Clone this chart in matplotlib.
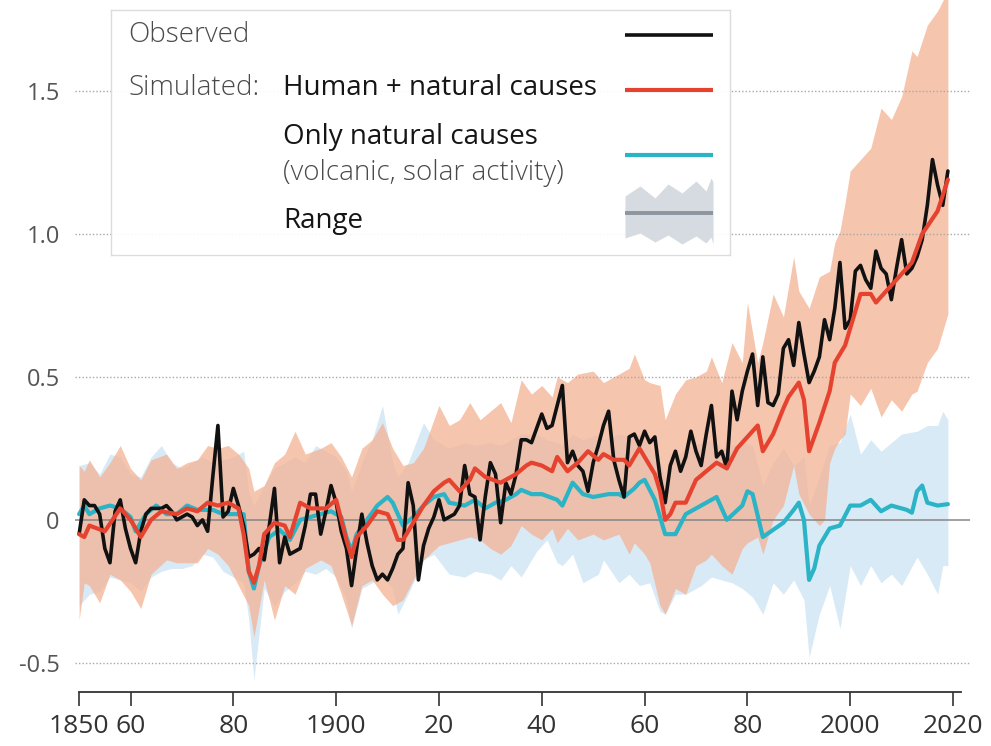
import matplotlib
matplotlib.use('Agg')
import matplotlib.pyplot as plt

plt.rcParams['font.family'] = ['Open Sans', 'DejaVu Sans']

# Observed annual anomaly, 1850-2019
years = list(range(1850, 2020))
observed = [
    -0.05, 0.07, 0.05, 0.05, 0.02, -0.10, -0.15, 0.03, 0.07, -0.03,
    -0.10, -0.15, -0.04, 0.02, 0.04, 0.04, 0.04, 0.05, 0.03, 0.00,
    0.01, 0.02, 0.01, -0.02, 0.00, -0.04, 0.15, 0.33, 0.01, 0.03,
    0.11, 0.05, -0.02, -0.13, -0.12, -0.10, -0.14, -0.02, 0.11, -0.15,
    -0.06, -0.12, -0.11, -0.10, -0.02, 0.09, 0.09, -0.05, 0.03, 0.12,
    0.06, -0.04, -0.10, -0.23, -0.10, 0.02, -0.08, -0.16, -0.21, -0.19,
    -0.21, -0.17, -0.12, -0.10, 0.13, 0.05, -0.21, -0.09, -0.03, 0.01,
    0.07, 0.00, 0.01, 0.02, 0.05, 0.19, 0.09, 0.08, -0.07, 0.08,
    0.20, 0.16, -0.01, 0.13, 0.09, 0.16, 0.28, 0.28, 0.27, 0.32,
    0.37, 0.32, 0.33, 0.40, 0.47, 0.20, 0.24, 0.19, 0.17, 0.10,
    0.20, 0.26, 0.33, 0.38, 0.21, 0.14, 0.08, 0.29, 0.30, 0.26,
    0.31, 0.27, 0.29, 0.15, 0.06, 0.19, 0.24, 0.17, 0.22, 0.31,
    0.24, 0.19, 0.30, 0.40, 0.22, 0.24, 0.18, 0.45, 0.35, 0.45,
    0.52, 0.58, 0.40, 0.57, 0.41, 0.40, 0.44, 0.60, 0.63, 0.54,
    0.69, 0.58, 0.48, 0.52, 0.57, 0.70, 0.63, 0.74, 0.90, 0.67,
    0.70, 0.87, 0.89, 0.84, 0.81, 0.94, 0.88, 0.86, 0.77, 0.88,
    0.98, 0.86, 0.88, 0.92, 0.98, 1.10, 1.26, 1.17, 1.10, 1.22,
]

# Simulated: human + natural causes
human_years = [
    1850, 1851, 1852, 1855, 1858, 1860, 1862, 1864, 1866, 1869,
    1871, 1873, 1875, 1877, 1879, 1881, 1882, 1883, 1884, 1885,
    1886, 1888, 1890, 1891, 1893, 1895, 1898, 1900, 1901, 1902,
    1903, 1904, 1906, 1908, 1910, 1911, 1912, 1913, 1914, 1917,
    1919, 1921, 1922, 1924, 1926, 1927, 1929, 1932, 1935, 1937,
    1938, 1940, 1942, 1943, 1945, 1947, 1949, 1951, 1952, 1954,
    1956, 1957, 1959, 1961, 1962, 1963, 1964, 1965, 1966, 1968,
    1970, 1972, 1974, 1976, 1978, 1980, 1982, 1983, 1985, 1987,
    1988, 1990, 1991, 1992, 1994, 1996, 1997, 1999, 2001, 2002,
    2004, 2005, 2007, 2009, 2012, 2014, 2017, 2019,
]
human = [
    -0.05, -0.06, -0.02, -0.04, 0.04, 0.00, -0.06, 0.00, 0.03, 0.02,
    0.04, 0.03, 0.06, 0.05, 0.06, 0.04, -0.05, -0.18, -0.22, -0.16,
    -0.05, -0.01, -0.02, -0.06, 0.06, 0.04, 0.04, 0.07, 0.00, -0.07,
    -0.13, -0.06, -0.02, 0.03, 0.02, -0.02, -0.07, -0.07, -0.04, 0.05,
    0.10, 0.13, 0.14, 0.10, 0.14, 0.18, 0.15, 0.13, 0.16, 0.19,
    0.20, 0.19, 0.17, 0.22, 0.17, 0.20, 0.24, 0.21, 0.23, 0.21,
    0.21, 0.19, 0.25, 0.19, 0.16, 0.10, 0.00, 0.02, 0.06, 0.06,
    0.14, 0.17, 0.20, 0.18, 0.25, 0.29, 0.33, 0.24, 0.30, 0.39,
    0.43, 0.48, 0.42, 0.24, 0.34, 0.45, 0.55, 0.61, 0.73, 0.79,
    0.79, 0.76, 0.80, 0.84, 0.90, 1.00, 1.08, 1.19,
]

# Simulated: only natural causes
natural_years = [
    1850, 1851, 1852, 1854, 1856, 1858, 1860, 1861, 1863, 1865,
    1867, 1869, 1871, 1873, 1876, 1878, 1881, 1882, 1883, 1884,
    1885, 1887, 1889, 1891, 1893, 1895, 1897, 1899, 1901, 1902,
    1903, 1904, 1906, 1908, 1910, 1911, 1912, 1913, 1915, 1917,
    1919, 1921, 1922, 1925, 1927, 1929, 1931, 1933, 1935, 1936,
    1938, 1940, 1943, 1944, 1946, 1948, 1950, 1953, 1955, 1956,
    1958, 1959, 1960, 1962, 1964, 1966, 1968, 1971, 1974, 1976,
    1979, 1980, 1981, 1983, 1985, 1987, 1989, 1990, 1991, 1992,
    1993, 1994, 1996, 1998, 2000, 2002, 2004, 2006, 2008, 2011,
    2012, 2013, 2014, 2015, 2017, 2019,
]
natural = [
    0.02, 0.05, 0.02, 0.04, 0.05, 0.04, 0.01, -0.04, 0.02, 0.05,
    0.02, 0.02, 0.05, 0.035, 0.035, 0.02, 0.02, 0.02, -0.18, -0.24,
    -0.16, -0.06, -0.035, -0.07, 0.00, 0.01, 0.02, 0.03, 0.01, -0.06,
    -0.11, -0.05, 0.00, 0.05, 0.08, 0.06, 0.02, -0.02, 0.01, 0.05,
    0.08, 0.09, 0.06, 0.05, 0.07, 0.04, 0.06, 0.07, 0.09, 0.105,
    0.09, 0.09, 0.07, 0.05, 0.13, 0.09, 0.08, 0.09, 0.09, 0.08,
    0.11, 0.13, 0.14, 0.07, -0.05, -0.05, 0.02, 0.05, 0.08, 0.00,
    0.05, 0.10, 0.09, -0.06, -0.035, -0.01, 0.035, 0.06, 0.00, -0.21,
    -0.17, -0.09, -0.03, -0.02, 0.05, 0.05, 0.07, 0.03, 0.05, 0.035,
    0.025, 0.10, 0.12, 0.06, 0.05, 0.055,
]

# Range of human + natural simulations
human_band_years = [
    1850, 1851, 1852, 1854, 1856, 1858, 1860, 1862, 1864, 1867,
    1869, 1871, 1873, 1875, 1877, 1879, 1881, 1883, 1884, 1886,
    1888, 1890, 1892, 1894, 1897, 1899, 1901, 1903, 1905, 1907,
    1909, 1911, 1913, 1915, 1917, 1920, 1922, 1924, 1926, 1928,
    1930, 1932, 1934, 1936, 1938, 1940, 1942, 1943, 1945, 1947,
    1950, 1952, 1955, 1957, 1958, 1960, 1961, 1963, 1964, 1966,
    1968, 1970, 1972, 1973, 1975, 1977, 1979, 1980, 1982, 1983,
    1985, 1987, 1989, 1990, 1992, 1994, 1995, 1996, 1997, 1998,
    1999, 2000, 2002, 2004, 2006, 2008, 2010, 2012, 2013, 2015,
    2017, 2019,
]
human_upper = [
    0.19, 0.17, 0.21, 0.15, 0.20, 0.26, 0.18, 0.14, 0.21, 0.23,
    0.18, 0.20, 0.21, 0.26, 0.25, 0.26, 0.23, 0.18, 0.10, 0.12,
    0.20, 0.23, 0.31, 0.23, 0.25, 0.27, 0.22, 0.15, 0.25, 0.28,
    0.34, 0.25, 0.19, 0.20, 0.25, 0.40, 0.33, 0.35, 0.41, 0.35,
    0.38, 0.41, 0.34, 0.49, 0.44, 0.47, 0.43, 0.50, 0.48, 0.51,
    0.52, 0.48, 0.51, 0.53, 0.58, 0.49, 0.48, 0.47, 0.35, 0.44,
    0.49, 0.50, 0.52, 0.57, 0.48, 0.62, 0.55, 0.76, 0.55, 0.62,
    0.79, 0.71, 0.92, 0.80, 0.74, 0.85, 0.86, 0.87, 0.97, 1.01,
    1.11, 1.22, 1.26, 1.30, 1.44, 1.40, 1.48, 1.64, 1.62, 1.73,
    1.78, 1.85,
]
human_lower = [
    -0.35, -0.22, -0.23, -0.29, -0.19, -0.21, -0.25, -0.31, -0.19, -0.14,
    -0.15, -0.15, -0.15, -0.10, -0.12, -0.16, -0.23, -0.30, -0.41, -0.21,
    -0.35, -0.23, -0.26, -0.17, -0.14, -0.16, -0.26, -0.37, -0.23, -0.21,
    -0.26, -0.30, -0.28, -0.21, -0.14, -0.09, -0.08, -0.07, -0.06, -0.07,
    -0.10, -0.12, -0.09, -0.02, -0.05, -0.07, -0.03, -0.08, -0.03, -0.07,
    -0.05, -0.07, -0.05, -0.12, -0.08, -0.12, -0.15, -0.30, -0.33, -0.24,
    -0.26, -0.16, -0.14, -0.12, -0.16, -0.19, -0.10, -0.08, -0.06, -0.12,
    0.00, 0.05, 0.19, 0.09, 0.02, -0.02, 0.00, 0.20, 0.25, 0.28,
    0.30, 0.44, 0.40, 0.46, 0.36, 0.42, 0.38, 0.44, 0.45, 0.55,
    0.60, 0.72,
]

# Range of natural-only simulations
natural_band_years = [
    1850, 1852, 1854, 1856, 1858, 1860, 1862, 1864, 1866, 1868,
    1870, 1872, 1874, 1876, 1878, 1880, 1882, 1883, 1884, 1886,
    1888, 1890, 1892, 1894, 1896, 1898, 1900, 1902, 1903, 1905,
    1907, 1909, 1911, 1912, 1914, 1917, 1919, 1922, 1925, 1927,
    1930, 1932, 1934, 1936, 1939, 1941, 1943, 1944, 1946, 1948,
    1951, 1952, 1955, 1957, 1959, 1961, 1963, 1964, 1966, 1968,
    1971, 1973, 1975, 1977, 1979, 1981, 1983, 1985, 1987, 1989,
    1991, 1992, 1994, 1996, 1998, 2000, 2002, 2004, 2006, 2008,
    2010, 2013, 2015, 2017, 2018, 2019,
]
natural_upper = [
    0.19, 0.20, 0.16, 0.23, 0.22, 0.16, 0.15, 0.22, 0.26, 0.20,
    0.18, 0.20, 0.22, 0.20, 0.21, 0.22, 0.24, 0.10, 0.05, 0.12,
    0.18, 0.20, 0.22, 0.20, 0.26, 0.24, 0.22, 0.17, 0.10, 0.20,
    0.28, 0.40, 0.20, 0.15, 0.20, 0.34, 0.28, 0.25, 0.27, 0.26,
    0.27, 0.26, 0.28, 0.30, 0.30, 0.28, 0.27, 0.26, 0.30, 0.28,
    0.30, 0.28, 0.30, 0.29, 0.30, 0.26, 0.20, 0.15, 0.22, 0.25,
    0.27, 0.28, 0.25, 0.26, 0.27, 0.26, 0.12, 0.20, 0.25, 0.19,
    0.22, 0.05, 0.15, 0.26, 0.27, 0.37, 0.23, 0.28, 0.24, 0.27,
    0.30, 0.31, 0.33, 0.33, 0.38, 0.35,
]
natural_lower = [
    -0.30, -0.26, -0.25, -0.20, -0.21, -0.22, -0.25, -0.20, -0.18, -0.17,
    -0.17, -0.16, -0.12, -0.13, -0.18, -0.20, -0.22, -0.35, -0.56, -0.24,
    -0.30, -0.25, -0.22, -0.18, -0.19, -0.17, -0.20, -0.28, -0.38, -0.24,
    -0.22, -0.20, -0.24, -0.33, -0.26, -0.14, -0.12, -0.19, -0.20, -0.18,
    -0.19, -0.21, -0.16, -0.20, -0.11, -0.07, -0.15, -0.16, -0.12, -0.22,
    -0.19, -0.14, -0.22, -0.19, -0.23, -0.22, -0.32, -0.33, -0.26, -0.26,
    -0.23, -0.20, -0.21, -0.22, -0.24, -0.27, -0.33, -0.22, -0.26, -0.21,
    -0.28, -0.48, -0.33, -0.23, -0.38, -0.16, -0.23, -0.16, -0.22, -0.19,
    -0.23, -0.13, -0.19, -0.26, -0.16, -0.16,
]

xticks = [1850, 1860, 1880, 1900, 1920, 1940, 1960, 1980, 2000, 2020]
xlabels = ['1850', '60', '80', '1900', '20', '40', '60', '80', '2000', '2020']
yticks = [-0.5, 0, 0.5, 1.0, 1.5]
ylabels = ['-0.5', '0', '0.5', '1.0', '1.5']

# Colors
BLACK = '#111111'
RED = '#E5432F'
TEAL = '#2BB3C6'
SALMON = '#F4B293'
SKY = '#D8EAF6'
GRID = '#A8A8A8'

W, H = 991, 746
fig = plt.figure(figsize=(W / 100, H / 100), dpi=100)
fig.patch.set_facecolor('white')
ax = fig.add_axes([75 / W, 54 / H, 895 / W, 692 / H])
ax.set_xlim(1849.2, 2023.3)
ax.set_ylim(-0.602, 1.818)

# ranges
ax.fill_between(natural_band_years, natural_lower, natural_upper,
                color=SKY, lw=0, zorder=1)
ax.fill_between(human_band_years, human_lower, human_upper,
                color=SALMON, alpha=0.75, lw=0, zorder=2)

# grid
for v in [-0.5, 0.5, 1.0, 1.5]:
    ax.axhline(v, color=GRID, lw=1, ls=(0, (1, 1.5)), zorder=2.5)
ax.axhline(0, color='#868686', lw=1.1, zorder=3)

# lines
ax.plot(natural_years, natural, color=TEAL, lw=3.0, zorder=4,
        solid_joinstyle='round', solid_capstyle='round')
ax.plot(years, observed, color=BLACK, lw=2.6, zorder=5,
        solid_joinstyle='round', solid_capstyle='round')
ax.plot(human_years, human, color=RED, lw=3.0, zorder=6,
        solid_joinstyle='round', solid_capstyle='round')

# axes styling
for s in ['left', 'top', 'right']:
    ax.spines[s].set_visible(False)
ax.spines['bottom'].set_bounds(1850, 2021.5)
ax.spines['bottom'].set_color('#333333')
ax.spines['bottom'].set_linewidth(1.3)
ax.set_xticks(xticks, xlabels)
ax.tick_params(axis='x', direction='out', length=10, width=1.2,
               color='#333333', labelsize=19, labelcolor='#333333', pad=6)
ax.set_yticks(yticks, ylabels)
ax.tick_params(axis='y', length=0, pad=11, labelsize=17,
               labelcolor='#555555')
ax.patch.set_alpha(0)

# ── legend box (pixel coords) ─────────────────────────────────────
lax = fig.add_axes([111 / W, 1 - 255 / H, 619 / W, 245 / H], zorder=10)
lax.set_xlim(111, 730)
lax.set_ylim(255, 10)
lax.set_xticks([])
lax.set_yticks([])
for s in lax.spines.values():
    s.set_color('#dcdcdc')
    s.set_linewidth(1)
lax.patch.set_facecolor('white')
lax.patch.set_alpha(0.93)

LIGHT = dict(fontsize=20, color='#4a4a4a', fontweight='light',
             ha='left', va='center')
DARK = dict(fontsize=20, color='#151515', ha='left', va='center')
lax.text(128, 35, 'Observed', **LIGHT)
lax.text(128, 88, 'Simulated:', **LIGHT)
lax.text(283, 88, 'Human + natural causes', **DARK)
lax.text(283, 137, 'Only natural causes', **DARK)
lax.text(283, 173, '(volcanic, solar activity)', **LIGHT)
lax.text(283, 221, 'Range', **DARK)

lax.plot([625, 713], [35, 35], color=BLACK, lw=2.6, solid_capstyle='butt')
lax.plot([625, 713], [90, 90], color=RED, lw=3.0, solid_capstyle='butt')
lax.plot([625, 713], [155, 155], color=TEAL, lw=3.0, solid_capstyle='butt')
gx = [625, 640, 655, 668, 682, 696, 706, 711, 713]
gtop = [196, 186, 198, 184, 193, 181, 191, 178, 182]
gbot = [238, 233, 242, 235, 244, 236, 243, 237, 244]
lax.fill_between(gx, gtop, gbot, color='#d5dbe0', lw=0)
lax.plot([625, 713], [213, 213], color='#8d969e', lw=2.8,
         solid_capstyle='butt')

fig.savefig('out.png', dpi=100, facecolor='white')
print('Done')
